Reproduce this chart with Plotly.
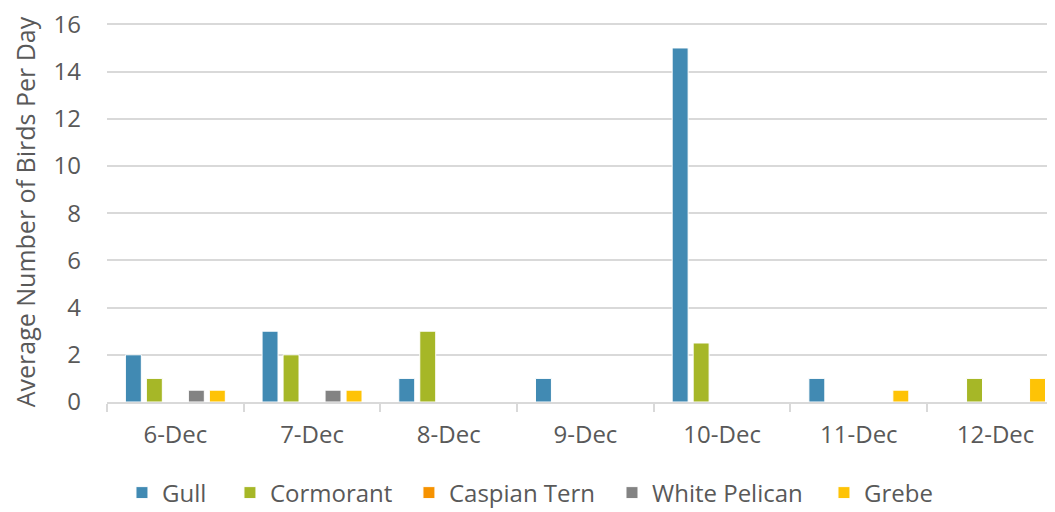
import plotly.graph_objects as go

categories = ["6-Dec", "7-Dec", "8-Dec", "9-Dec", "10-Dec", "11-Dec", "12-Dec"]
gull = [2, 3, 1, 1, 15, 1, 0]
cormorant = [1, 2, 3, 0, 2.5, 0, 1]
caspian_tern = [0, 0, 0, 0, 0, 0, 0]
white_pelican = [0.5, 0.5, 0, 0, 0, 0, 0]
grebe = [0.5, 0.5, 0, 0, 0, 0.5, 1]

series = [
    ("Gull", gull, "#418AB3"),
    ("Cormorant", cormorant, "#A6B727"),
    ("Caspian Tern", caspian_tern, "#F69200"),
    ("White Pelican", white_pelican, "#838383"),
    ("Grebe", grebe, "#FEC306"),
]

FONT = "Open Sans"
TXT = "#595959"
GRID = "#D9D9D9"
LEGEND_X = [0.0158, 0.1297, 0.3185, 0.5327, 0.7563]

fig = go.Figure()
for i, (name, vals, col) in enumerate(series):
    lname = "legend" if i == 0 else f"legend{i+1}"
    fig.add_trace(go.Bar(
        x=categories, y=vals, name=name, legend=lname,
        marker=dict(color=col, line=dict(color="white", width=1)),
    ))

layout_legends = {}
for i, lx in enumerate(LEGEND_X):
    lname = "legend" if i == 0 else f"legend{i+1}"
    layout_legends[lname] = dict(
        orientation="h", x=lx, xanchor="left", y=-0.2395, yanchor="middle",
        font=dict(family=FONT, size=24, color=TXT),
        bgcolor="rgba(0,0,0,0)",
    )

fig.update_layout(
    width=1047, height=504,
    margin=dict(l=99, r=0, t=14, b=110, autoexpand=False),
    paper_bgcolor="white", plot_bgcolor="white",
    barmode="group", bargap=0.232, bargroupgap=0.24,
    font=dict(family=FONT, size=24, color=TXT),
    showlegend=True,
    **layout_legends,
)

fig.update_xaxes(
    type="category", range=[-0.5, 6.435], automargin=False,
    showgrid=False, showline=True, linecolor=GRID, linewidth=1.5,
    ticks="outside", tickson="boundaries", ticklen=8, tickcolor=GRID, tickwidth=1.5,
    tickfont=dict(family=FONT, size=24, color=TXT),
    ticklabelstandoff=10,
)
fig.update_yaxes(
    range=[0, 16.1], tickmode="array", tickvals=[0, 2, 4, 6, 8, 10, 12, 14, 16],
    showgrid=True, gridcolor=GRID, gridwidth=1.5,
    zeroline=False, showline=False, automargin=False,
    ticklabeloverflow="allow",
    tickfont=dict(family=FONT, size=24, color=TXT),
    ticklabelstandoff=25,
    title=dict(text="Average Number of Birds Per Day", font=dict(family=FONT, size=25, color=TXT), standoff=21),
)

fig.write_html("out.html")
